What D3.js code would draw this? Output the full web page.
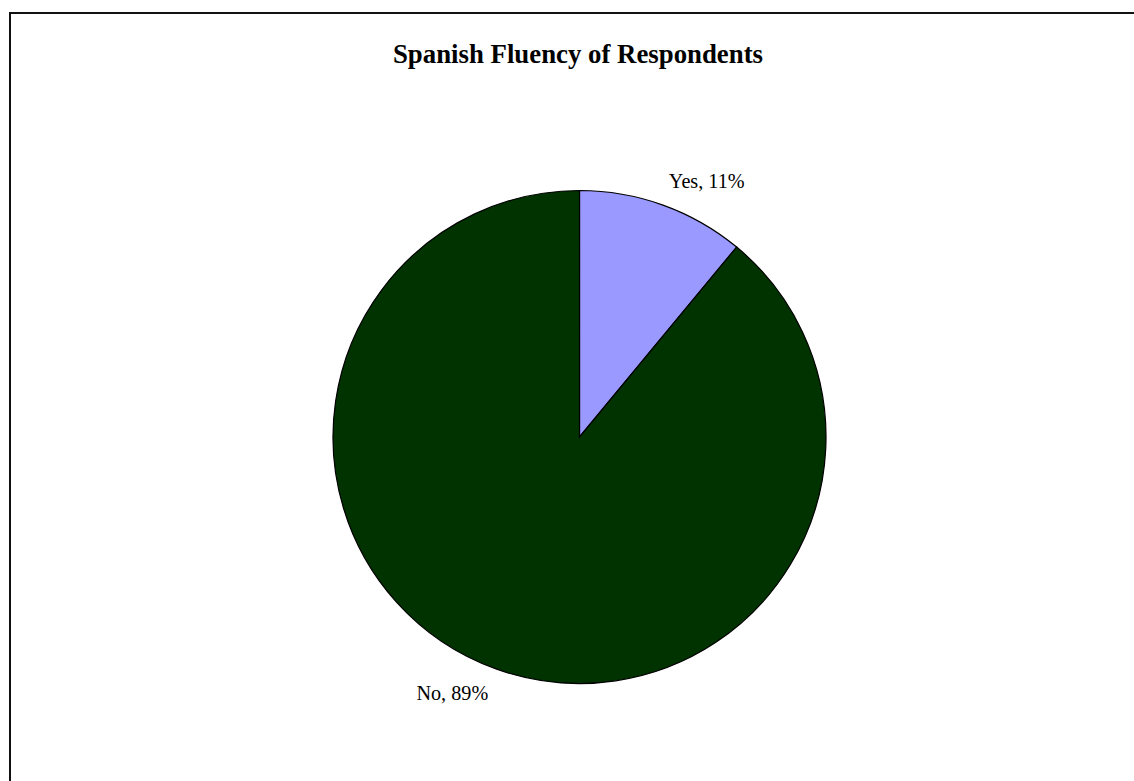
<!DOCTYPE html>
<html><head><meta charset="utf-8">
<script src="https://cdn.jsdelivr.net/npm/d3@7"></script>
<style>html,body{margin:0;padding:0;background:#fff;}svg{display:block;}</style>
</head><body>
<script>
const categories = ["Yes", "No"];
const values = [11, 89];
const colors = ["#9999FF", "#003300"];
const title = "Spanish Fluency of Respondents";

const W = 1134, H = 781;
const svg = d3.select("body").append("svg").attr("width", W).attr("height", H);
svg.append("rect").attr("x", 10).attr("y", 13).attr("width", 1140).attr("height", 800)
  .attr("fill", "#fff").attr("stroke", "#111").attr("stroke-width", 2);

svg.append("text").attr("x", 578).attr("y", 63).attr("text-anchor", "middle")
  .attr("font-family", "'Liberation Serif','Times New Roman',serif").attr("font-weight", "bold")
  .attr("font-size", 26.8).text(title);

const cx = 579.5, cy = 437, r = 246.5;
const data = categories.map((c, i) => ({cat: c, value: values[i], color: colors[i]}));
const pie = d3.pie().value(d => d.value).sort(null);
const arcs = pie(data);
const arc = d3.arc().innerRadius(0).outerRadius(r);
const g = svg.append("g").attr("transform", `translate(${cx},${cy})`);
g.selectAll("path").data(arcs).join("path").attr("d", arc)
  .attr("fill", d => d.data.color).attr("stroke", "#000").attr("stroke-width", 1.2);

const total = d3.sum(values);
g.selectAll("text.lbl").data(arcs).join("text").attr("class", "lbl")
  .attr("x", d => Math.sin((d.startAngle + d.endAngle) / 2) * (r + 129))
  .attr("y", d => -Math.cos((d.startAngle + d.endAngle) / 2) * (r + 25.5) + 7)
  .attr("text-anchor", "middle")
  .attr("font-family", "'Liberation Serif','Times New Roman',serif").attr("font-size", 20.2)
  .text(d => `${d.data.cat}, ${Math.round(d.data.value / total * 100)}%`);
</script>
</body></html>
